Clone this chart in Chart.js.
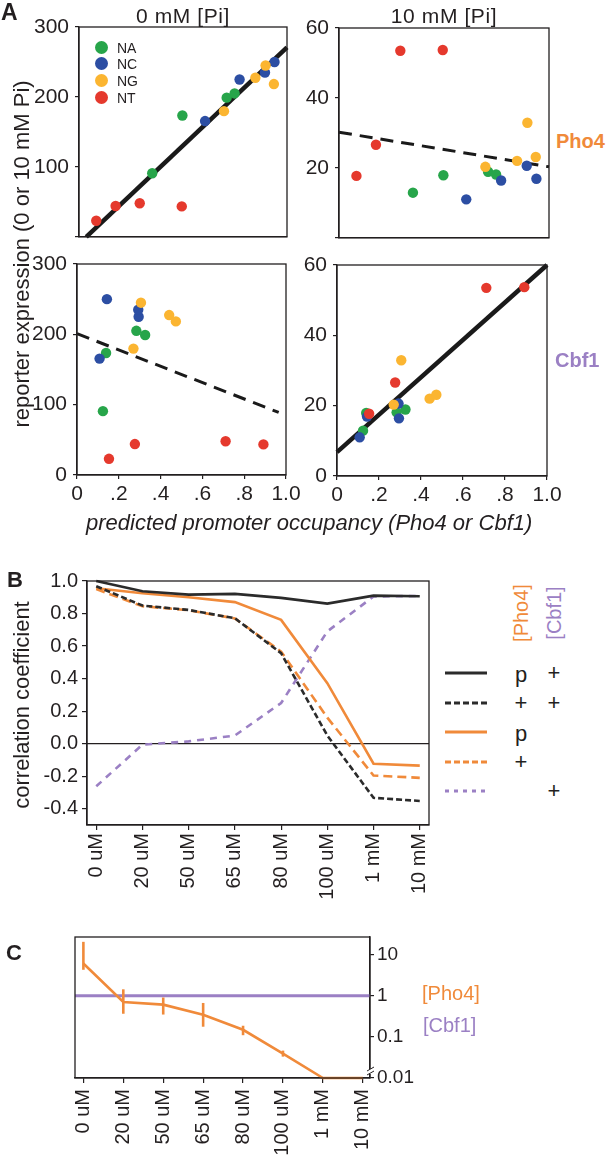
<!DOCTYPE html>
<html><head><meta charset="utf-8">
<script src="https://cdn.jsdelivr.net/npm/chart.js@4.4.1/dist/chart.umd.min.js"></script>
<style>
html,body{margin:0;padding:0;background:#fff;}
body{width:606px;height:1161px;position:relative;overflow:hidden;font-family:"Liberation Sans",Arial,Helvetica,sans-serif;color:#231f20;}
.t{position:absolute;white-space:nowrap;line-height:1;z-index:3;}
.rot{transform:translate(-50%,-50%) rotate(-90deg);}
.ctr{transform:translate(-50%,-50%);}
.b{font-weight:bold;}
canvas{z-index:1;}
</style></head><body>

<div class="t b" style="left:1px;top:1px;font-size:23px;">A</div>
<div class="t ctr" style="left:183px;top:15px;font-size:21px;letter-spacing:0.6px;">0 mM [Pi]</div>
<div class="t ctr" style="left:444px;top:15px;font-size:21px;letter-spacing:0.6px;">10 mM [Pi]</div>
<div class="t b" style="left:556px;top:131px;font-size:20px;color:#f08a3a;">Pho4</div>
<div class="t b" style="left:555px;top:350px;font-size:20px;color:#9b80c4;">Cbf1</div>
<div class="t rot" style="left:22px;top:254px;font-size:22px;">reporter expression (0 or 10 mM Pi)</div>
<div class="t" style="left:86px;top:512px;font-size:22px;font-style:italic;">predicted promoter occupancy (Pho4 or Cbf1)</div>

<!-- legend panel A -->
<div style="position:absolute;left:95px;top:41px;width:13px;height:13px;border-radius:50%;background:#27a54a;z-index:3"></div>
<div style="position:absolute;left:95px;top:57px;width:13px;height:13px;border-radius:50%;background:#2c4ea3;z-index:3"></div>
<div style="position:absolute;left:95px;top:74px;width:13px;height:13px;border-radius:50%;background:#fbb531;z-index:3"></div>
<div style="position:absolute;left:95px;top:91px;width:13px;height:13px;border-radius:50%;background:#e5392d;z-index:3"></div>
<div class="t" style="left:117px;top:41px;font-size:14px;">NA</div>
<div class="t" style="left:117px;top:57px;font-size:14px;">NC</div>
<div class="t" style="left:117px;top:74px;font-size:14px;">NG</div>
<div class="t" style="left:117px;top:91px;font-size:14px;">NT</div>

<div class="t b" style="left:7px;top:569px;font-size:22px;">B</div>
<div class="t rot" style="left:22px;top:705px;font-size:22px;">correlation coefficient</div>
<div class="t rot" style="left:521px;top:613px;font-size:20px;color:#f08a3a;">[Pho4]</div>
<div class="t rot" style="left:554px;top:613px;font-size:20px;color:#9b80c4;">[Cbf1]</div>
<svg style="position:absolute;left:440px;top:660px;z-index:3" width="55" height="145">
  <line x1="5" x2="47" y1="13" y2="13" stroke="#2b2b2b" stroke-width="3"/>
  <line x1="5" x2="47" y1="43" y2="43" stroke="#2b2b2b" stroke-width="3" stroke-dasharray="6,3"/>
  <line x1="5" x2="47" y1="72" y2="72" stroke="#f08a3a" stroke-width="3"/>
  <line x1="5" x2="47" y1="102" y2="102" stroke="#f08a3a" stroke-width="3" stroke-dasharray="6,3"/>
  <line x1="5" x2="47" y1="131" y2="131" stroke="#9b80c4" stroke-width="3" stroke-dasharray="4,5"/>
</svg>
<div class="t ctr" style="left:521px;top:675px;font-size:22px;">p</div>
<div class="t ctr" style="left:554px;top:673px;font-size:22px;">+</div>
<div class="t ctr" style="left:521px;top:703px;font-size:22px;">+</div>
<div class="t ctr" style="left:554px;top:703px;font-size:22px;">+</div>
<div class="t ctr" style="left:521px;top:734px;font-size:22px;">p</div>
<div class="t ctr" style="left:521px;top:762px;font-size:22px;">+</div>
<div class="t ctr" style="left:554px;top:791px;font-size:22px;">+</div>

<div class="t b" style="left:6px;top:942px;font-size:22px;">C</div>
<div class="t" style="left:422px;top:983px;font-size:20px;color:#f08a3a;">[Pho4]</div>
<div class="t" style="left:423px;top:1015px;font-size:20px;color:#9b80c4;">[Cbf1]</div>

<script>
// ---------------- DATA ----------------
const groupNames = ['NA', 'NC', 'NG', 'NT'];
// per strain: predicted Pho4 occupancy, predicted Cbf1 occupancy, expression at 0 mM and 10 mM Pi
const naPho4Occ = [0.497, 0.352, 0.710, 0.748];
const naCbf1Occ = [0.139, 0.124, 0.326, 0.284];
const naExpr0   = [173.5, 90.8, 199, 205];
const naExpr10  = [17.9, 12.9, 18.9, 18.1];
const ncPho4Occ = [0.606, 0.772, 0.894, 0.940];
const ncCbf1Occ = [0.108, 0.295, 0.293, 0.143];
const ncExpr0   = [165.5, 225, 235, 250];
const ncExpr10  = [11.0, 16.4, 20.6, 16.9];
const ngPho4Occ = [0.697, 0.848, 0.897, 0.937];
const ngCbf1Occ = [0.270, 0.441, 0.306, 0.473];
const ngExpr0   = [179.7, 227.4, 245, 218.4];
const ngExpr10  = [20.3, 22.0, 32.9, 23.1];
const ntPho4Occ = [0.083, 0.176, 0.292, 0.494];
const ntCbf1Occ = [0.153, 0.277, 0.711, 0.892];
const ntExpr0   = [23.0, 44.0, 48.0, 43.5];
const ntExpr10  = [17.7, 26.6, 53.5, 53.7];

// regression lines (end points)
const fitPho4At0X  = [0.035, 1.0];  const fitPho4At0Y  = [0, 271];
const fitPho4At10X = [0, 1.0];      const fitPho4At10Y = [30.2, 20.3];
const fitCbf1At0X  = [0, 0.965];    const fitCbf1At0Y  = [201, 89];
const fitCbf1At10X = [0, 1.0];      const fitCbf1At10Y = [6.8, 60];

const occTickLabels = ['0', '.2', '.4', '.6', '.8', '1.0'];

// panel B
const concLabels = ['0 uM', '20 uM', '50 uM', '65 uM', '80 uM', '100 uM', '1 mM', '10 mM'];
const corrPredPho4Cbf1 = [1.0, 0.937, 0.916, 0.921, 0.896, 0.861, 0.910, 0.906];
const corrBoth         = [0.968, 0.849, 0.822, 0.771, 0.556, 0.050, -0.333, -0.352];
const corrPredPho4     = [0.955, 0.925, 0.900, 0.870, 0.761, 0.372, -0.123, -0.135];
const corrPho4         = [0.950, 0.845, 0.820, 0.770, 0.566, 0.160, -0.196, -0.210];
const corrCbf1         = [-0.262, -0.006, 0.014, 0.050, 0.250, 0.690, 0.905, 0.908];
const corrTickValues = [-0.4, -0.2, 0, 0.2, 0.4, 0.6, 0.8, 1.0];
const corrTickLabels = ['-0.4', '-0.2', '0.0', '0.2', '0.4', '0.6', '0.8', '1.0'];

// panel C
const pho4Level   = [6.1, 0.71, 0.61, 0.345, 0.149, 0.039, 0.01, 0.01];
const pho4ErrHigh = [20.6, 1.44, 0.91, 0.67, 0.187, 0.0464, null, null];
const pho4ErrLow  = [4.3, 0.366, 0.35, 0.177, 0.11, 0.0331, null, null];
const cbf1Level = 1;
const foldTickValues = [0.01, 0.1, 1, 10];
const foldTickLabels = ['0.01', '0.1', '1', '10'];

// ---------------- STYLE ----------------
const FF = '"Liberation Sans", Arial, sans-serif';
const ink = '#231f20';
const groupColors = ['#27a54a', '#2c4ea3', '#fbb531', '#e5392d'];
const orange = '#f08a3a', purple = '#9b80c4', dark = '#2b2b2b';
Chart.defaults.font.family = FF;
Chart.defaults.color = ink;

function zeroPad(s){ s.paddingLeft = 0; s.paddingRight = 0; s.paddingTop = 0; s.paddingBottom = 0; }

const framePlugin = {
  id: 'frame',
  afterDatasetsDraw(chart) {
    const a = chart.chartArea, c = chart.ctx;
    c.save(); c.strokeStyle = ink; c.lineWidth = 1.3;
    c.strokeRect(a.left, a.top, a.right - a.left, a.bottom - a.top);
    c.restore();
  }
};

function mk(left, top, w, h, m, cfg) {
  const cv = document.createElement('canvas');
  const W = w + m.l + m.r, H = h + m.t + m.b;
  cv.width = W; cv.height = H;
  cv.style.cssText = `position:absolute;left:${left - m.l}px;top:${top - m.t}px;width:${W}px;height:${H}px;`;
  document.body.appendChild(cv);
  return new Chart(cv, cfg);
}

function pts(xs, ys) { return xs.map((v, i) => ({x: v, y: ys[i]})); }

function panelA(left, top, w, h, showX, xsList, ysList, yMax, yStep, hideZero, fx, fy, dashed) {
  const datasets = groupNames.map((g, gi) => ({
    type: 'scatter', label: g, data: pts(xsList[gi], ysList[gi]),
    backgroundColor: groupColors[gi], borderWidth: 0, pointRadius: 5.2, order: 5 - gi
  }));
  datasets.push({
    type: 'line', label: 'fit', data: pts(fx, fy), borderColor: '#1a1a1a',
    borderWidth: dashed ? 3 : 4.5, borderDash: dashed ? [13, 8] : [], pointRadius: 0,
    fill: false, clip: false, order: 10
  });
  const m = {l: 62, t: 8, r: showX ? 24 : 6, b: showX ? 40 : 4};
  return mk(left, top, w, h, m, {
    type: 'scatter',
    data: {datasets},
    options: {
      responsive: false, animation: false, devicePixelRatio: 1,
      layout: {padding: {left: 0, top: m.t, right: m.r, bottom: 0}},
      plugins: {legend: {display: false}, tooltip: {enabled: false}},
      scales: {
        x: {
          type: 'linear', min: 0, max: 1,
          ticks: {display: showX, stepSize: 0.2, padding: 3, color: ink, font: {size: 21},
                  callback: (v, i) => occTickLabels[i], maxRotation: 0},
          grid: {display: showX, drawOnChartArea: false, drawTicks: true, tickLength: 4, color: ink, lineWidth: 1.2},
          border: {display: true, color: ink, width: 1.3},
          afterFit: s => { s.height = m.b; zeroPad(s); }
        },
        y: {
          type: 'linear', min: 0, max: yMax,
          ticks: {stepSize: yStep, padding: 6, color: ink, font: {size: 21},
                  callback: v => (hideZero && v === 0) ? '' : String(v)},
          grid: {drawOnChartArea: false, drawTicks: true, tickLength: 4, color: ink, lineWidth: 1.2},
          border: {display: true, color: ink, width: 1.3},
          afterFit: s => { s.width = m.l; zeroPad(s); }
        }
      }
    },
    plugins: [framePlugin]
  });
}

const pho4OccAll = [naPho4Occ, ncPho4Occ, ngPho4Occ, ntPho4Occ];
const cbf1OccAll = [naCbf1Occ, ncCbf1Occ, ngCbf1Occ, ntCbf1Occ];
const expr0All = [naExpr0, ncExpr0, ngExpr0, ntExpr0];
const expr10All = [naExpr10, ncExpr10, ngExpr10, ntExpr10];

panelA(79, 27, 208, 211, false, pho4OccAll, expr0All, 300, 100, true, fitPho4At0X, fitPho4At0Y, false);
panelA(339, 28, 210, 211, false, pho4OccAll, expr10All, 60, 20, true, fitPho4At10X, fitPho4At10Y, true);
panelA(77, 264, 209, 211, true, cbf1OccAll, expr0All, 300, 100, false, fitCbf1At0X, fitCbf1At0Y, true);
panelA(337, 265, 210, 211, true, cbf1OccAll, expr10All, 60, 20, false, fitCbf1At10X, fitCbf1At10Y, false);

// ---------------- PANEL B ----------------
const zeroLinePlugin = {
  id: 'zeroLine',
  beforeDatasetsDraw(chart) {
    const a = chart.chartArea, c = chart.ctx, y = chart.scales.y.getPixelForValue(0);
    c.save(); c.strokeStyle = ink; c.lineWidth = 1.1;
    c.beginPath(); c.moveTo(a.left, y); c.lineTo(a.right, y); c.stroke(); c.restore();
  }
};
function lineDs(arr, color, dash, order) {
  return {type: 'line', data: arr.map((v, i) => ({x: i, y: v})), borderColor: color, borderWidth: 2.6,
          borderDash: dash, pointRadius: 0, fill: false, tension: 0, clip: false, order};
}
const mB = {l: 80, t: 8, r: 6, b: 85};
mk(87, 581, 342, 244, mB, {
  type: 'scatter',
  data: {datasets: [
    lineDs(corrPredPho4Cbf1, dark, [], 1),
    lineDs(corrBoth, dark, [6, 3], 2),
    lineDs(corrPredPho4, orange, [], 3),
    lineDs(corrPho4, orange, [9, 5], 4),
    lineDs(corrCbf1, purple, [7, 6], 5)
  ]},
  options: {
    responsive: false, animation: false, devicePixelRatio: 1,
    layout: {padding: {left: 0, top: mB.t, right: mB.r, bottom: 0}},
    plugins: {legend: {display: false}, tooltip: {enabled: false}},
    scales: {
      x: {
        type: 'linear', min: -0.2, max: 7.2,
        afterBuildTicks: s => { s.ticks = concLabels.map((_, i) => ({value: i})); },
        ticks: {autoSkip: false, minRotation: 90, maxRotation: 90, padding: 3, color: ink, font: {size: 20},
                callback: (v, i) => concLabels[i]},
        grid: {drawOnChartArea: false, drawTicks: true, tickLength: 5, color: ink, lineWidth: 1.2},
        border: {display: true, color: ink, width: 1.3},
        afterFit: s => { s.height = mB.b; zeroPad(s); }
      },
      y: {
        type: 'linear', min: -0.5, max: 1.0,
        afterBuildTicks: s => { s.ticks = corrTickValues.map(v => ({value: v})); },
        ticks: {padding: 4, color: ink, font: {size: 20}, callback: (v, i) => corrTickLabels[i]},
        grid: {drawOnChartArea: false, drawTicks: true, tickLength: 5, color: ink, lineWidth: 1.2},
        border: {display: true, color: ink, width: 1.3},
        afterFit: s => { s.width = mB.l; zeroPad(s); }
      }
    }
  },
  plugins: [framePlugin, zeroLinePlugin]
});

// ---------------- PANEL C ----------------
const cPlugin = {
  id: 'cExtras',
  beforeDatasetsDraw(chart) {
    const a = chart.chartArea, c = chart.ctx, y = chart.scales.y.getPixelForValue(cbf1Level);
    c.save(); c.strokeStyle = purple; c.lineWidth = 3;
    c.beginPath(); c.moveTo(a.left, y); c.lineTo(a.right, y); c.stroke(); c.restore();
  },
  afterDatasetsDraw(chart) {
    const c = chart.ctx, xs = chart.scales.x, ys = chart.scales.y, a = chart.chartArea;
    c.save(); c.strokeStyle = orange; c.lineWidth = 2.6;
    pho4Level.forEach((v, i) => {
      if (pho4ErrHigh[i] == null) return;
      const x = xs.getPixelForValue(i);
      c.beginPath(); c.moveTo(x, ys.getPixelForValue(pho4ErrLow[i])); c.lineTo(x, ys.getPixelForValue(pho4ErrHigh[i])); c.stroke();
    });
    // axis break mark
    const yb = ys.getPixelForValue(foldTickValues[0]) - 6;
    c.fillStyle = '#fff'; c.fillRect(a.right - 2, yb - 3, 6, 5);
    c.strokeStyle = ink; c.lineWidth = 1;
    c.beginPath(); c.moveTo(a.right - 3, yb - 1); c.lineTo(a.right + 4, yb - 5);
    c.moveTo(a.right - 3, yb + 3); c.lineTo(a.right + 4, yb - 1); c.stroke();
    c.restore();
  }
};
const mC = {l: 10, t: 8, r: 80, b: 86};
mk(75, 937, 295, 141, mC, {
  type: 'scatter',
  data: {datasets: [
    {type: 'line', data: pho4Level.map((v, i) => ({x: i, y: v})), borderColor: orange, borderWidth: 2.6,
     pointRadius: 0, fill: false, tension: 0, clip: false}
  ]},
  options: {
    responsive: false, animation: false, devicePixelRatio: 1,
    layout: {padding: {left: mC.l, top: mC.t, right: 0, bottom: 0}},
    plugins: {legend: {display: false}, tooltip: {enabled: false}},
    scales: {
      x: {
        type: 'linear', min: -0.21, max: 7.18,
        afterBuildTicks: s => { s.ticks = concLabels.map((_, i) => ({value: i})); },
        ticks: {autoSkip: false, minRotation: 90, maxRotation: 90, padding: 6, color: ink, font: {size: 20},
                callback: (v, i) => concLabels[i]},
        grid: {drawOnChartArea: false, drawTicks: true, tickLength: 5, color: ink, lineWidth: 1.2},
        border: {display: true, color: ink, width: 1.3},
        afterFit: s => { s.height = mC.b; zeroPad(s); }
      },
      y: {
        type: 'logarithmic', position: 'right', min: 0.01, max: 27,
        afterBuildTicks: s => { s.ticks = foldTickValues.map(v => ({value: v})); },
        ticks: {padding: 3, color: ink, font: {size: 19}, callback: (v, i) => foldTickLabels[i]},
        grid: {drawOnChartArea: false, drawTicks: true, tickLength: 4, color: ink, lineWidth: 1.2},
        border: {display: true, color: ink, width: 1.3},
        afterFit: s => { s.width = mC.r; zeroPad(s); }
      }
    }
  },
  plugins: [framePlugin, cPlugin]
});
</script>
</body></html>
